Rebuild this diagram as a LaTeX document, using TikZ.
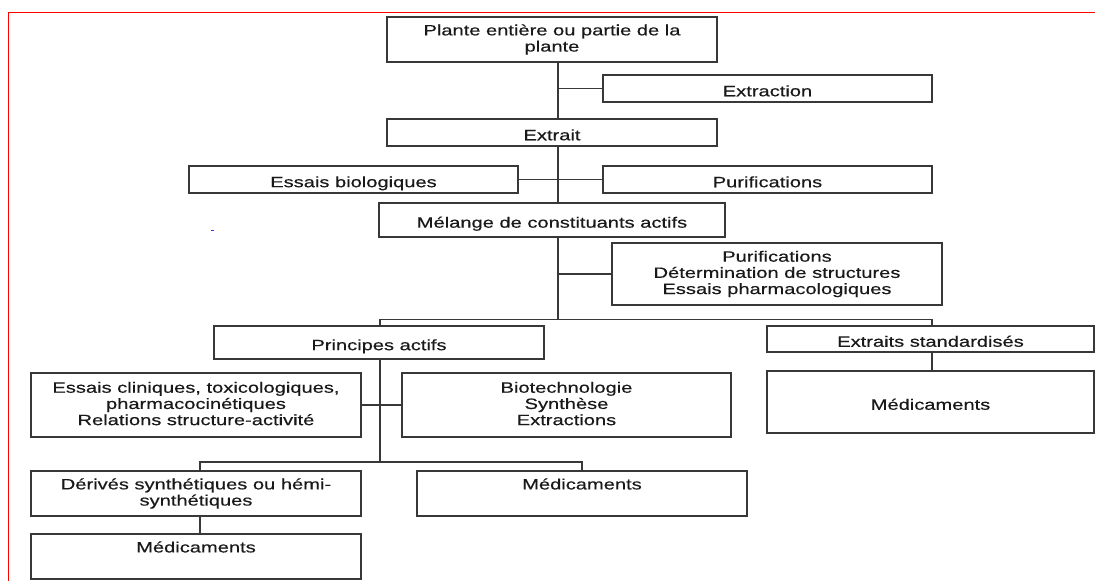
\documentclass[tikz,border=0pt]{standalone}
\usepackage{fontspec}
\setmainfont{Liberation Sans}[FakeStretch=1.34,FakeBold=0.4]
\begin{document}
\begin{tikzpicture}[x=1pt,y=-1pt,
  box/.style={draw=black!78, line width=1.5pt, inner sep=0pt, align=center,
    font=\fontsize{15}{16.2}\selectfont, text=black!90,
    execute at begin node={\rule{0pt}{18.5pt}},
    execute at end node={\rule[-3pt]{0pt}{3pt}}},
  wh/.style 2 args={minimum width=#1pt, minimum height=#2pt},
  link/.style={draw=black!78, line width=1.4pt}]
\useasboundingbox (0,0) rectangle (1095,581);
\draw[red, line width=1pt] (8,581) -- (8,12) -- (1095,12);
\fill[blue!80] (211,229.5) rectangle (213.5,231);

% nodes
\node[box, wh={330}{45}] (plante) at (552,39.5) {Plante entière ou partie de la\\plante};
\node[box, wh={329}{27}] (extraction) at (767.5,88.5) {Extraction};
\node[box, wh={330}{27}] (extrait) at (552,132.5) {Extrait};
\node[box, wh={329}{27}] (essaisbio) at (353.5,179.5) {Essais biologiques};
\node[box, wh={329}{27}] (purif) at (767.5,179.5) {Purifications};
\node[box, wh={346}{34}] (melange) at (552,220) {Mélange de constituants actifs};
\node[box, wh={330}{62}] (purif3) at (777,274) {Purifications\\Détermination de structures\\Essais pharmacologiques};
\node[box, wh={330}{33}] (principes) at (379,342.5) {Principes actifs};
\node[box, wh={327}{26}] (extstd) at (930.5,339) {Extraits standardisés};
\node[box, wh={327}{62}] (medR) at (930.5,402) {Médicaments};
\node[box, wh={330}{64}] (essaiscli) at (196,405) {Essais cliniques, toxicologiques,\\pharmacocinétiques\\Relations structure-activité};
\node[box, wh={329}{64}] (biotech) at (566.5,405) {Biotechnologie\\Synthèse\\Extractions};
\node[box, wh={330}{45}] (derives) at (196,493.5) {Dérivés synthétiques ou hémi-\\synthétiques};
\node[box, wh={330}{45}] (medMid) at (582,493.5) {Médicaments\\\mbox{}};
\node[box, wh={330}{45}] (medBot) at (196,556.5) {Médicaments\\\mbox{}};

% helper coordinates
\coordinate (sx) at (558,0);
\coordinate (j1) at (558,319.5);
\coordinate (j2) at (380,462);
\coordinate (px) at (380,0);
\coordinate (ex) at (932,0);
\coordinate (dx) at (200,0);

% connectors
\draw[link] (plante.south -| sx) -- (extrait.north -| sx);
\draw[link] (extraction.west -| sx) -- (extraction.west);
\draw[link] (extrait.south -| sx) -- (melange.north -| sx);
\draw[link] (essaisbio.east) -- (purif.west);
\draw[link] (melange.south -| sx) -- (j1);
\draw[link] (purif3.west -| sx) -- (purif3.west);
\draw[link] (principes.north -| px) |- (j1) -| (extstd.north -| ex);
\draw[link] (extstd.south -| ex) -- (medR.north -| ex);
\draw[link] (principes.south -| px) -- (j2);
\draw[link] (essaiscli.east) -- (biotech.west);
\draw[link] (derives.north -| dx) |- (j2) -| (medMid.north);
\draw[link] (derives.south -| dx) -- (medBot.north -| dx);
\end{tikzpicture}
\end{document}
